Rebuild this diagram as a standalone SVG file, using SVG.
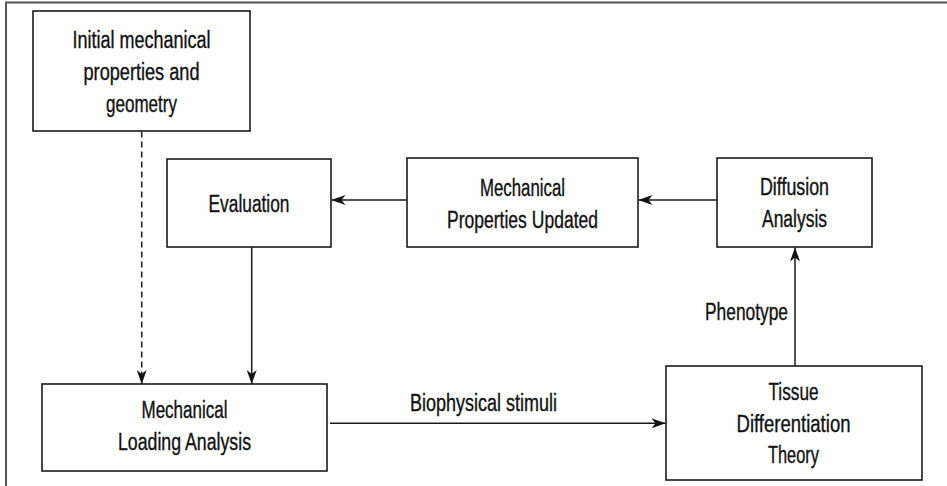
<svg xmlns="http://www.w3.org/2000/svg" width="947" height="486" viewBox="0 0 947 486">
<style>
.box{fill:#fff;stroke:#1a1a1a;stroke-width:1.6}
.t{font-family:"Liberation Sans",Arial,sans-serif;font-size:23px;fill:#111;stroke:#111;stroke-width:0.35;text-anchor:middle}
.c{stroke:#1a1a1a;stroke-width:1.5;fill:none}
.d{stroke-dasharray:6 4}
</style>
<defs>
<marker id="ah" viewBox="0 0 14 10" refX="14" refY="5" markerWidth="14" markerHeight="10" markerUnits="userSpaceOnUse" orient="auto">
<path d="M0,0 L14,5 L0,10 L4,5 Z" fill="#111"/>
</marker>
</defs>
<rect width="947" height="486" fill="#fff"/>
<path d="M6,486 V2.5 H947" fill="none" stroke="#555" stroke-width="2"/>
<g id="initial">
<rect class="box" x="33" y="11" width="217" height="120"/>
<text class="t" x="141.5" y="48" textLength="138" lengthAdjust="spacingAndGlyphs">Initial mechanical</text>
<text class="t" x="141.5" y="80" textLength="116" lengthAdjust="spacingAndGlyphs">properties and</text>
<text class="t" x="141.5" y="112" textLength="71" lengthAdjust="spacingAndGlyphs">geometry</text>
</g>
<g id="evaluation">
<rect class="box" x="167" y="159" width="164" height="88"/>
<text class="t" x="249" y="211.5" textLength="81" lengthAdjust="spacingAndGlyphs">Evaluation</text>
</g>
<g id="mpu">
<rect class="box" x="407" y="158" width="231" height="89"/>
<text class="t" x="522.5" y="195.5" textLength="85" lengthAdjust="spacingAndGlyphs">Mechanical</text>
<text class="t" x="522.5" y="227.5" textLength="151" lengthAdjust="spacingAndGlyphs">Properties Updated</text>
</g>
<g id="diffusion">
<rect class="box" x="717" y="158" width="155" height="89"/>
<text class="t" x="794.5" y="195" textLength="69" lengthAdjust="spacingAndGlyphs">Diffusion</text>
<text class="t" x="794.5" y="226.5" textLength="65" lengthAdjust="spacingAndGlyphs">Analysis</text>
</g>
<g id="mla">
<rect class="box" x="42" y="384" width="285" height="87"/>
<text class="t" x="184.5" y="418" textLength="86" lengthAdjust="spacingAndGlyphs">Mechanical</text>
<text class="t" x="184.5" y="450" textLength="133" lengthAdjust="spacingAndGlyphs">Loading Analysis</text>
</g>
<g id="tissue">
<rect class="box" x="666" y="366" width="256" height="114"/>
<text class="t" x="793.5" y="400" textLength="50" lengthAdjust="spacingAndGlyphs">Tissue</text>
<text class="t" x="793.5" y="431.5" textLength="114" lengthAdjust="spacingAndGlyphs">Differentiation</text>
<text class="t" x="793.5" y="462.5" textLength="51" lengthAdjust="spacingAndGlyphs">Theory</text>
</g>
<g id="connectors">
<line class="c d" x1="141.7" y1="131.5" x2="141.7" y2="384" marker-end="url(#ah)"/>
<line class="c" x1="251.7" y1="247.5" x2="251.7" y2="384" marker-end="url(#ah)"/>
<line class="c" x1="406" y1="200" x2="331.5" y2="200" marker-end="url(#ah)"/>
<line class="c" x1="716.5" y1="200" x2="638.5" y2="200" marker-end="url(#ah)"/>
<line class="c" x1="330" y1="423.3" x2="665.5" y2="423.3" marker-end="url(#ah)"/>
<line class="c" x1="795" y1="366" x2="795" y2="247.5" marker-end="url(#ah)"/>
<text class="t" x="483.5" y="410.5" textLength="147" lengthAdjust="spacingAndGlyphs">Biophysical stimuli</text>
<text class="t" x="746.5" y="320" textLength="83" lengthAdjust="spacingAndGlyphs">Phenotype</text>
</g>
</svg>
